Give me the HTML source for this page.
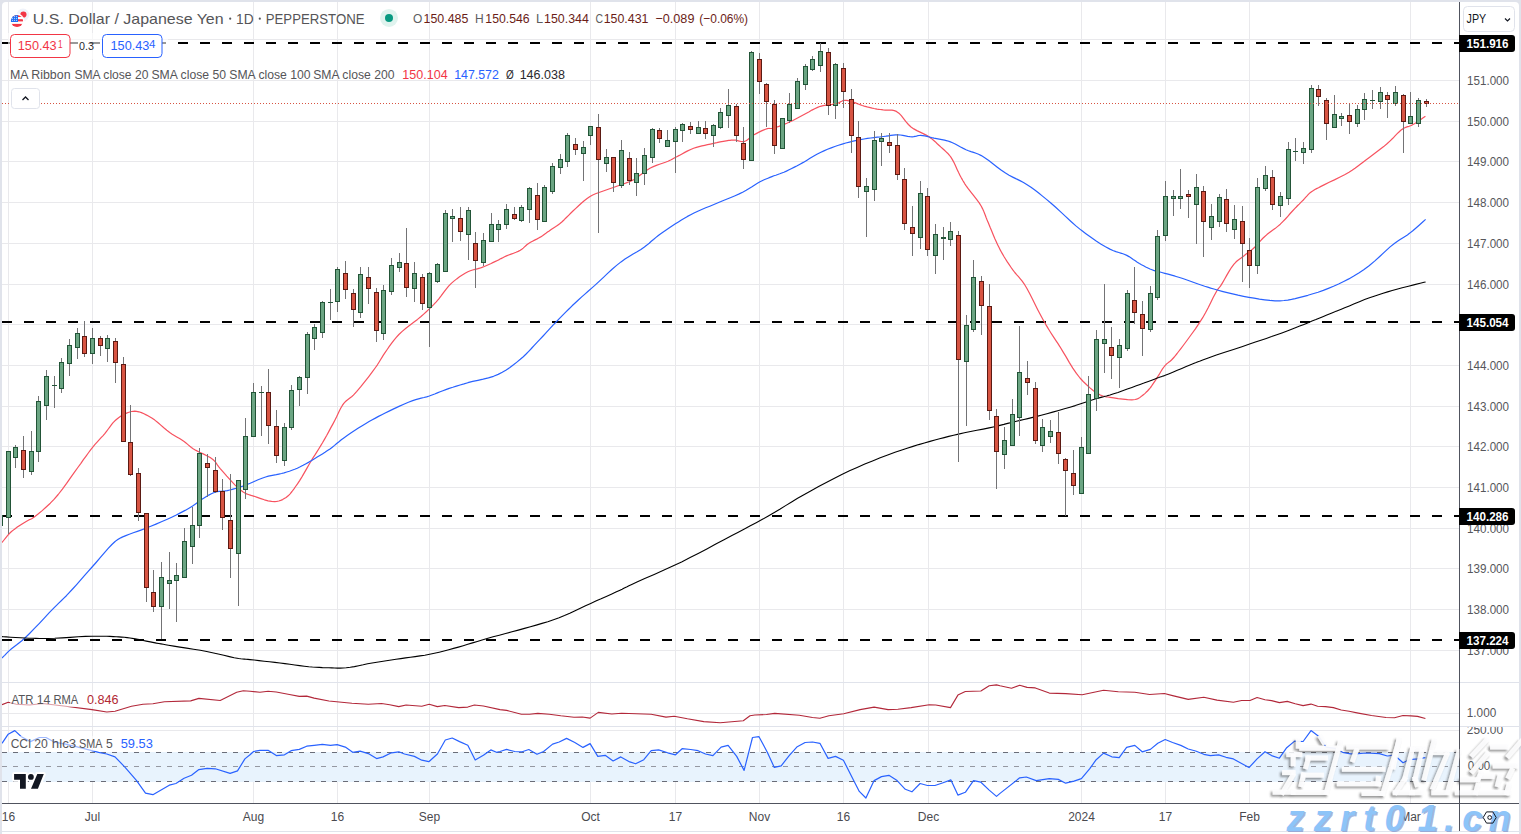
<!DOCTYPE html><html><head><meta charset="utf-8"><title>USDJPY</title><style>
html,body{margin:0;padding:0;background:#e0e3eb;width:1521px;height:834px;overflow:hidden}
svg{display:block}text{font-family:"Liberation Sans", sans-serif}
</style></head><body>
<svg width="1521" height="834" viewBox="0 0 1521 834" shape-rendering="auto">
<defs><clipPath id="main"><rect x="2" y="2" width="1457" height="680"/></clipPath>
<clipPath id="atr"><rect x="2" y="683" width="1457" height="43"/></clipPath>
<clipPath id="cci"><rect x="2" y="727" width="1457" height="76"/></clipPath>
<pattern id="dash" x="2" y="0" width="22" height="2" patternUnits="userSpaceOnUse"><rect x="0" y="0" width="10" height="2" fill="#000"/></pattern></defs>
<rect x="0" y="0" width="1521" height="834" fill="#e0e3eb"/>
<path d="M2 834V6a4 4 0 0 1 4-4H1515a4 4 0 0 1 4 4V834Z" fill="#ffffff"/>
<path d="M2 831.5H1519" stroke="#e0e3eb" stroke-width="1" shape-rendering="crispEdges"/>
<path d="M8.5 2V803 M92.5 2V803 M253.5 2V803 M337.5 2V803 M429.5 2V803 M590.5 2V803 M675.5 2V803 M759.5 2V803 M843.5 2V803 M928.5 2V803 M1081.5 2V803 M1165.5 2V803 M1249.5 2V803 M1410.5 2V803 M2 39.5H1459 M2 80.5H1459 M2 121.5H1459 M2 161.5H1459 M2 202.5H1459 M2 243.5H1459 M2 284.5H1459 M2 324.5H1459 M2 365.5H1459 M2 406.5H1459 M2 446.5H1459 M2 487.5H1459 M2 528.5H1459 M2 568.5H1459 M2 609.5H1459 M2 650.5H1459 M2 713.5H1459 M2 730.5H1459" stroke="#e9e9ec" stroke-width="1" fill="none" shape-rendering="crispEdges"/>
<path d="M2 682.5H1519M2 726.5H1519" stroke="#e0e3eb" stroke-width="1" fill="none" shape-rendering="crispEdges"/>
<rect x="2" y="752" width="1457" height="30" fill="#e8f3fd"/>
<g clip-path="url(#main)">
<rect x="2" y="42" width="1457" height="2" fill="url(#dash)"/>
<rect x="2" y="321" width="1457" height="2" fill="url(#dash)"/>
<rect x="2" y="515" width="1457" height="2" fill="url(#dash)"/>
<rect x="2" y="639" width="1457" height="2" fill="url(#dash)"/>
<polyline points="2.0,542.6 2.4,542.0 3.6,540.5 5.3,538.4 7.3,535.9 9.4,533.5 11.5,531.5 14.2,529.4 17.3,527.1 20.5,525.0 23.7,523.0 26.6,521.3 28.8,520.0 29.5,519.6 30.1,519.4 30.6,519.2 31.1,519.0 31.7,518.7 32.4,518.3 35.0,516.4 38.4,513.8 42.2,510.6 46.2,507.0 50.3,503.2 54.0,499.4 58.2,494.5 62.4,489.1 66.6,483.4 70.6,477.6 74.5,472.1 78.2,467.0 80.9,463.3 83.4,459.7 85.9,456.3 88.3,453.0 90.6,449.8 93.0,446.8 95.0,444.4 97.1,442.1 99.1,439.9 101.1,437.7 103.1,435.6 105.0,433.4 106.7,431.2 108.3,429.0 109.9,426.8 111.5,424.7 113.1,422.6 114.9,420.8 116.7,419.2 118.6,417.7 120.6,416.3 122.6,415.1 124.6,414.0 126.6,413.1 128.2,412.5 129.8,412.0 131.4,411.5 133.1,411.3 134.8,411.2 136.5,411.3 138.9,411.8 141.4,412.6 144.0,413.7 146.6,415.1 149.2,416.6 151.8,418.1 154.8,420.1 157.8,422.5 160.8,425.1 163.8,427.8 166.8,430.3 169.7,432.5 172.2,434.2 174.7,435.7 177.2,437.2 179.6,438.6 181.9,440.1 184.1,441.5 185.7,442.7 187.1,443.9 188.5,445.1 189.9,446.3 191.4,447.5 193.1,448.7 196.0,450.4 199.5,452.2 203.2,453.9 206.8,455.7 210.2,457.6 212.9,459.5 214.4,460.9 215.5,462.2 216.5,463.6 217.5,465.1 218.6,466.6 220.0,468.3 223.1,471.8 226.8,476.1 230.9,480.6 235.1,485.1 239.1,488.9 242.8,491.8 244.8,493.0 246.6,493.9 248.4,494.5 250.2,495.1 252.1,495.7 254.2,496.3 257.3,497.4 260.8,498.6 264.4,499.8 268.1,500.8 271.6,501.4 274.7,501.6 276.8,501.4 278.8,501.0 280.7,500.4 282.6,499.6 284.3,498.6 286.1,497.5 288.2,495.8 290.1,493.8 292.0,491.5 293.8,489.1 295.6,486.5 297.5,483.8 299.8,480.4 302.1,476.6 304.4,472.6 306.7,468.6 308.9,464.7 311.1,461.0 313.0,457.9 315.0,454.9 316.9,451.9 318.7,449.0 320.6,445.9 322.5,442.8 324.6,439.1 326.8,435.3 328.9,431.4 331.0,427.4 333.1,423.6 335.0,420.0 336.5,417.0 337.9,414.0 339.3,411.1 340.7,408.3 342.2,405.7 343.8,403.4 345.2,401.8 346.7,400.5 348.3,399.3 349.9,398.1 351.6,396.8 353.4,395.1 356.8,391.4 360.6,386.9 364.6,381.9 368.6,376.8 372.3,371.9 375.5,367.5 377.4,364.8 379.0,362.2 380.5,359.8 382.0,357.4 383.5,354.9 385.2,352.4 387.2,349.5 389.3,346.4 391.5,343.4 393.8,340.4 396.3,337.4 398.9,334.5 402.2,331.4 405.9,328.3 409.8,325.3 413.7,322.3 417.5,319.4 421.0,316.5 423.7,314.1 426.3,311.7 428.8,309.4 431.2,307.1 433.6,304.7 436.0,302.1 438.6,299.1 441.1,295.9 443.5,292.6 446.0,289.3 448.6,286.2 451.3,283.4 453.9,281.1 456.7,278.9 459.5,276.8 462.3,275.0 465.1,273.3 467.9,271.8 470.3,270.8 472.6,270.0 475.0,269.4 477.3,268.8 479.7,268.2 482.0,267.4 484.3,266.5 486.6,265.5 488.9,264.5 491.1,263.5 493.3,262.4 495.5,261.4 497.4,260.5 499.2,259.6 501.0,258.6 502.8,257.7 504.6,256.8 506.5,255.9 508.7,255.0 511.1,254.1 513.6,253.2 516.0,252.3 518.2,251.4 520.3,250.3 521.8,249.3 523.2,248.1 524.5,246.9 525.8,245.7 527.1,244.5 528.6,243.4 530.5,242.3 532.5,241.2 534.6,240.1 536.7,239.1 538.7,238.0 540.7,236.9 542.5,235.8 544.2,234.5 545.9,233.3 547.5,232.1 549.2,230.9 550.8,229.7 552.3,228.7 553.9,227.7 555.4,226.8 556.9,225.8 558.4,224.7 560.0,223.5 562.1,221.7 564.2,219.7 566.4,217.5 568.6,215.3 570.9,213.0 573.2,210.8 575.8,208.4 578.6,205.8 581.3,203.2 584.2,200.7 587.1,198.5 590.0,196.5 592.7,195.0 595.5,193.8 598.3,192.7 601.1,191.8 604.0,190.8 606.8,189.8 609.6,188.8 612.5,187.8 615.4,186.8 618.2,185.8 621.0,184.8 623.5,183.9 625.3,183.2 627.0,182.6 628.6,182.0 630.2,181.4 631.8,180.6 633.6,179.7 636.2,178.1 638.9,176.1 641.7,174.0 644.6,171.8 647.5,169.8 650.4,168.0 653.3,166.6 656.4,165.4 659.5,164.3 662.5,163.3 665.4,162.3 668.0,161.3 669.6,160.5 671.1,159.8 672.4,159.1 673.8,158.3 675.2,157.5 676.8,156.7 679.3,155.4 682.0,153.9 684.8,152.4 687.7,150.9 690.7,149.5 693.6,148.3 696.4,147.4 699.1,146.6 701.9,145.9 704.7,145.3 707.5,144.7 710.4,144.1 713.5,143.4 716.8,142.7 720.1,141.9 723.3,141.3 726.2,140.8 728.8,140.4 730.1,140.3 731.2,140.2 732.3,140.1 733.3,140.1 734.4,140.1 735.5,140.2 736.8,140.4 738.2,140.8 739.6,141.2 741.1,141.5 742.5,141.7 743.9,141.6 745.6,141.0 747.2,140.0 748.8,138.7 750.5,137.3 752.2,136.0 754.0,134.8 756.2,133.6 758.5,132.4 761.0,131.1 763.3,130.1 765.5,129.2 767.4,128.6 768.3,128.5 769.0,128.4 769.7,128.5 770.4,128.5 771.1,128.5 772.0,128.4 774.0,127.9 776.3,127.3 778.9,126.4 781.5,125.4 784.2,124.4 786.8,123.3 789.6,122.0 792.4,120.7 795.2,119.2 798.0,117.7 800.8,116.2 803.6,114.7 806.4,113.2 809.2,111.7 811.9,110.1 814.7,108.7 817.6,107.4 820.4,106.3 823.2,105.6 826.2,105.1 829.2,104.7 832.1,104.4 834.8,104.0 837.1,103.5 838.4,103.0 839.6,102.4 840.6,101.7 841.7,101.2 842.7,100.7 843.9,100.4 845.2,100.3 846.6,100.4 848.0,100.7 849.4,101.0 850.9,101.4 852.3,101.8 853.9,102.3 855.5,102.9 857.2,103.6 858.9,104.2 860.6,104.9 862.3,105.5 864.2,106.1 866.2,106.6 868.2,107.2 870.2,107.6 872.2,108.1 874.1,108.5 875.7,108.8 877.1,109.1 878.6,109.3 880.1,109.5 881.6,109.7 883.2,109.9 885.3,110.1 887.5,110.1 889.7,110.1 892.0,110.2 894.3,110.6 896.4,111.4 898.9,113.2 901.3,115.7 903.6,118.6 905.9,121.7 908.4,124.5 911.0,127.0 913.8,128.9 916.9,130.6 920.1,132.1 923.2,133.6 926.2,135.1 929.0,136.8 931.2,138.4 933.2,140.0 935.2,141.7 937.0,143.5 938.9,145.2 940.7,146.9 942.5,148.5 944.2,150.0 945.9,151.6 947.6,153.2 949.2,155.0 950.7,156.9 952.4,159.6 954.1,162.8 955.6,166.1 957.1,169.4 958.6,172.6 960.0,175.4 961.0,177.3 961.9,178.9 962.8,180.5 963.8,182.1 964.8,183.8 966.0,185.6 968.2,188.7 970.9,192.1 973.7,195.7 976.6,199.4 979.2,202.9 981.3,206.3 982.5,208.6 983.6,210.9 984.4,213.1 985.3,215.3 986.1,217.5 987.1,220.0 988.6,223.5 990.1,227.3 991.8,231.3 993.4,235.2 995.0,239.0 996.5,242.3 997.5,244.4 998.4,246.3 999.3,248.1 1000.2,249.9 1001.2,251.7 1002.3,253.6 1003.8,256.2 1005.5,259.0 1007.3,261.9 1009.2,264.7 1011.1,267.5 1013.0,270.2 1014.8,272.5 1016.6,274.6 1018.5,276.7 1020.3,278.8 1022.2,281.2 1024.1,283.8 1026.8,288.2 1029.5,293.3 1032.3,298.7 1035.0,304.2 1037.6,309.4 1040.0,314.0 1041.6,317.0 1043.1,319.7 1044.6,322.3 1046.0,324.9 1047.5,327.4 1049.1,330.0 1050.8,332.7 1052.5,335.4 1054.3,338.1 1056.1,340.8 1058.0,343.7 1060.0,346.8 1062.9,351.6 1066.1,356.9 1069.4,362.6 1072.8,368.1 1076.4,373.4 1080.0,378.0 1083.2,381.5 1086.6,384.8 1090.0,387.9 1093.4,390.7 1096.7,393.0 1099.8,394.8 1101.6,395.6 1103.2,396.1 1104.7,396.5 1106.3,396.8 1108.0,397.0 1110.0,397.3 1113.7,397.9 1118.2,398.6 1122.9,399.2 1127.6,399.7 1131.8,399.8 1135.2,399.5 1136.6,399.1 1137.9,398.6 1139.0,398.0 1140.0,397.4 1141.0,396.6 1142.1,395.8 1143.4,394.7 1144.8,393.6 1146.1,392.3 1147.5,391.0 1148.8,389.5 1150.0,388.1 1151.3,386.5 1152.5,384.7 1153.7,382.9 1154.9,381.1 1156.1,379.3 1157.3,377.4 1158.6,375.4 1159.9,373.2 1161.2,371.0 1162.5,368.9 1163.9,367.0 1165.2,365.3 1166.2,364.3 1167.3,363.4 1168.3,362.6 1169.4,361.8 1170.4,361.0 1171.5,360.0 1172.9,358.5 1174.3,357.0 1175.6,355.3 1177.1,353.5 1178.6,351.5 1180.3,349.3 1183.6,345.0 1187.3,340.0 1191.3,334.5 1195.4,328.8 1199.2,323.1 1202.7,317.7 1205.5,312.8 1208.3,307.5 1210.9,302.2 1213.3,297.3 1215.5,293.2 1217.3,290.0 1217.9,289.1 1218.5,288.5 1218.9,287.9 1219.4,287.4 1220.0,286.7 1220.6,285.9 1222.3,283.1 1224.4,279.5 1226.7,275.4 1229.2,271.1 1231.6,267.3 1234.0,264.1 1235.7,262.3 1237.3,260.8 1239.0,259.5 1240.7,258.3 1242.4,257.0 1244.1,255.7 1245.8,254.3 1247.5,253.0 1249.3,251.7 1251.0,250.4 1252.7,249.0 1254.4,247.5 1256.1,245.8 1257.7,244.1 1259.3,242.2 1260.9,240.4 1262.6,238.5 1264.5,236.7 1266.9,234.6 1269.5,232.6 1272.2,230.6 1275.0,228.6 1277.7,226.4 1280.3,224.2 1282.8,221.7 1285.4,219.0 1287.8,216.3 1290.2,213.5 1292.5,211.0 1294.7,208.6 1296.3,207.0 1297.7,205.5 1299.2,204.1 1300.6,202.7 1301.9,201.4 1303.3,200.0 1304.5,198.7 1305.6,197.4 1306.8,196.1 1307.9,194.8 1309.1,193.6 1310.4,192.5 1311.9,191.4 1313.4,190.5 1314.9,189.5 1316.6,188.6 1318.5,187.7 1320.5,186.6 1324.5,184.6 1329.2,182.3 1334.4,179.9 1339.6,177.3 1344.6,174.8 1349.0,172.3 1352.1,170.3 1355.0,168.3 1357.7,166.3 1360.3,164.3 1363.0,162.2 1365.9,160.0 1369.3,157.4 1372.9,154.8 1376.5,152.1 1380.1,149.3 1383.7,146.6 1387.0,143.8 1389.9,141.1 1392.8,138.3 1395.5,135.4 1398.2,132.7 1400.8,130.3 1403.3,128.5 1404.8,127.7 1406.3,127.1 1407.7,126.7 1409.1,126.3 1410.5,125.8 1412.0,125.1 1414.4,123.7 1417.3,121.9 1420.2,119.9 1422.8,118.1 1424.7,116.8 1425.4,116.3" fill="none" stroke="#f7525f" stroke-width="1.2" stroke-linejoin="round"/>
<polyline points="2.0,658.1 2.4,657.7 3.3,656.7 4.7,655.3 6.3,653.6 8.0,651.9 9.6,650.4 11.8,648.5 14.1,646.7 16.7,644.8 19.3,642.7 22.1,640.5 24.9,638.0 29.3,633.7 34.2,628.7 39.4,623.3 44.5,617.9 49.3,612.7 53.7,608.2 56.5,605.4 59.0,602.9 61.5,600.5 63.9,598.1 66.4,595.7 69.0,592.9 72.6,589.0 76.4,584.8 80.3,580.4 84.2,575.9 88.2,571.4 92.1,567.0 96.1,562.5 100.2,557.7 104.3,552.9 108.2,548.4 111.9,544.5 115.1,541.5 116.5,540.4 117.7,539.6 118.8,538.9 119.9,538.3 121.2,537.6 122.7,536.9 125.8,535.6 129.3,534.2 133.3,532.8 137.4,531.4 141.6,529.9 145.8,528.3 150.8,526.3 156.0,524.1 161.4,521.8 166.7,519.5 171.7,517.2 176.3,515.0 179.4,513.4 182.3,511.9 185.1,510.4 187.7,508.9 190.2,507.4 192.6,505.9 194.4,504.7 196.2,503.4 197.8,502.2 199.4,501.0 201.1,499.8 202.8,498.7 204.8,497.5 206.8,496.3 208.8,495.1 210.9,494.0 213.0,493.0 215.1,492.2 217.1,491.7 219.1,491.4 221.1,491.3 223.1,491.1 225.2,490.9 227.3,490.6 229.8,490.0 232.2,489.4 234.8,488.7 237.4,487.9 240.0,487.0 242.8,486.1 246.4,484.7 250.2,483.2 254.2,481.5 258.1,479.8 262.0,478.3 265.6,477.0 268.4,476.2 271.1,475.6 273.7,475.1 276.3,474.7 278.9,474.1 281.5,473.5 284.1,472.8 286.8,472.0 289.4,471.2 292.0,470.3 294.7,469.3 297.3,468.2 300.2,466.8 303.1,465.3 306.0,463.7 308.9,462.1 311.7,460.4 314.5,458.7 317.2,457.1 319.8,455.5 322.4,453.9 325.0,452.3 327.5,450.6 330.0,448.9 332.3,447.2 334.6,445.4 336.7,443.5 339.0,441.7 341.3,439.8 343.8,437.9 347.2,435.5 350.8,433.1 354.6,430.6 358.4,428.1 362.2,425.7 365.9,423.5 369.1,421.6 372.3,419.8 375.4,418.1 378.5,416.4 381.8,414.7 385.2,413.0 389.6,410.9 394.2,408.6 399.0,406.4 403.8,404.2 408.4,402.3 412.7,400.6 415.7,399.6 418.5,398.8 421.2,398.1 423.9,397.5 426.6,396.8 429.3,396.0 432.0,395.0 434.7,394.0 437.4,392.9 440.1,391.8 442.9,390.7 445.8,389.6 449.2,388.4 452.8,387.3 456.4,386.1 460.1,385.0 464.0,383.9 467.9,382.7 472.7,381.4 477.9,380.3 483.2,379.1 488.4,377.8 493.5,376.3 498.2,374.4 502.3,372.3 506.2,370.0 509.9,367.5 513.5,364.8 516.9,362.1 520.3,359.3 523.3,356.7 526.1,354.0 528.7,351.3 531.4,348.5 534.0,345.6 536.8,342.7 539.9,339.4 543.1,336.0 546.4,332.4 549.6,328.9 552.8,325.4 556.1,322.0 559.3,318.7 562.5,315.4 565.7,312.2 568.9,309.0 572.1,305.8 575.4,302.7 578.6,299.8 581.7,296.9 584.9,294.1 588.1,291.3 591.4,288.4 594.8,285.4 598.9,281.6 603.2,277.6 607.6,273.4 612.1,269.3 616.6,265.4 621.0,261.9 625.0,259.1 629.1,256.5 633.1,254.0 637.1,251.7 640.9,249.4 644.4,247.0 646.9,245.1 649.2,243.2 651.3,241.3 653.5,239.5 655.7,237.6 658.0,235.8 660.7,233.8 663.6,231.7 666.5,229.7 669.4,227.7 672.4,225.7 675.4,223.8 678.4,221.9 681.4,220.0 684.4,218.2 687.5,216.4 690.7,214.7 694.0,213.0 697.8,211.2 701.7,209.5 705.7,207.8 709.8,206.2 713.9,204.5 718.0,202.8 722.2,201.0 726.5,199.3 730.9,197.5 735.1,195.7 739.2,193.9 743.1,192.0 746.2,190.3 749.1,188.5 752.0,186.7 754.7,184.9 757.4,183.3 760.0,181.8 762.1,180.8 764.1,179.8 766.0,179.0 768.0,178.2 769.9,177.4 771.9,176.6 773.9,175.8 775.8,175.2 777.8,174.5 779.8,173.8 781.8,173.0 783.9,172.2 786.4,171.1 789.1,169.8 791.7,168.5 794.4,167.1 797.2,165.7 800.0,164.2 803.3,162.4 806.6,160.4 810.0,158.3 813.4,156.3 816.9,154.3 820.4,152.5 823.9,150.9 827.5,149.3 831.2,147.9 834.8,146.5 838.5,145.3 842.2,144.1 845.8,143.0 849.5,142.1 853.1,141.2 856.8,140.4 860.4,139.7 864.0,139.0 867.4,138.4 870.7,138.0 874.0,137.6 877.3,137.2 880.5,136.9 883.6,136.5 886.1,136.2 888.5,135.8 890.9,135.4 893.2,135.1 895.5,134.9 897.9,134.8 900.3,135.0 902.8,135.4 905.3,135.8 907.7,136.3 910.0,136.7 912.2,136.8 913.7,136.7 915.1,136.4 916.4,136.1 917.7,135.7 919.1,135.5 920.6,135.4 922.6,135.6 924.8,135.9 927.0,136.4 929.3,137.0 931.7,137.6 934.0,138.1 936.6,138.6 939.2,139.1 941.9,139.6 944.5,140.1 947.2,140.8 949.8,141.6 952.5,142.7 955.2,144.0 957.9,145.5 960.6,147.0 963.3,148.4 966.0,149.7 968.5,150.7 971.0,151.6 973.5,152.4 976.0,153.3 978.6,154.3 981.3,155.6 985.1,157.9 989.1,160.8 993.2,164.0 997.3,167.2 1001.4,170.3 1005.5,173.1 1009.1,175.2 1012.7,177.1 1016.3,178.9 1019.9,180.6 1023.5,182.5 1027.1,184.7 1031.0,187.3 1034.8,190.1 1038.7,193.1 1042.5,196.1 1046.5,199.4 1050.5,202.7 1055.4,207.0 1060.4,211.6 1065.5,216.4 1070.7,221.2 1075.9,225.9 1081.1,230.1 1085.9,233.7 1090.9,237.3 1095.8,240.7 1100.7,243.9 1105.5,246.7 1109.9,249.1 1112.9,250.5 1115.9,251.6 1118.8,252.5 1121.5,253.3 1124.2,254.3 1126.8,255.4 1129.0,256.6 1131.2,258.0 1133.2,259.4 1135.3,260.8 1137.3,262.2 1139.4,263.5 1141.5,264.7 1143.6,265.8 1145.7,267.0 1147.9,268.0 1150.0,269.0 1152.0,269.8 1153.6,270.4 1155.2,270.8 1156.7,271.2 1158.3,271.6 1160.0,272.0 1161.8,272.5 1164.8,273.3 1168.1,274.2 1171.6,275.2 1175.2,276.2 1178.7,277.3 1182.0,278.3 1184.9,279.3 1187.7,280.2 1190.5,281.2 1193.2,282.2 1196.0,283.2 1198.8,284.2 1201.8,285.2 1204.7,286.2 1207.7,287.1 1210.7,288.1 1213.9,289.0 1217.3,290.0 1222.1,291.3 1227.2,292.6 1232.6,293.9 1238.0,295.2 1243.5,296.3 1248.9,297.3 1254.1,298.2 1259.4,299.1 1264.7,299.8 1269.9,300.4 1275.0,300.8 1279.9,300.8 1283.9,300.5 1287.8,300.1 1291.5,299.4 1295.2,298.6 1299.0,297.6 1303.0,296.6 1307.9,295.3 1312.9,293.8 1318.1,292.2 1323.3,290.4 1328.4,288.4 1333.5,286.3 1338.6,284.0 1343.7,281.5 1348.8,278.9 1353.8,276.1 1358.8,273.1 1363.7,269.8 1369.1,265.7 1374.6,261.1 1380.0,256.2 1385.2,251.4 1390.1,246.9 1394.7,243.2 1397.5,241.2 1400.1,239.5 1402.6,237.9 1405.0,236.4 1407.4,234.9 1409.8,233.1 1412.8,230.7 1416.3,227.7 1419.7,224.7 1422.7,222.0 1424.8,220.1 1425.6,219.4" fill="none" stroke="#2962ff" stroke-width="1.2" stroke-linejoin="round"/>
<polyline points="2.0,636.6 3.2,636.7 6.2,636.9 10.6,637.2 15.6,637.5 20.5,637.8 24.9,638.0 28.7,638.2 32.3,638.3 36.0,638.4 39.7,638.5 43.7,638.5 48.0,638.5 54.7,638.3 62.2,637.9 70.2,637.4 78.1,636.8 85.5,636.4 92.1,636.2 96.1,636.2 99.8,636.2 103.3,636.2 106.6,636.3 109.9,636.4 113.2,636.6 116.1,636.8 118.8,636.9 121.5,637.1 124.3,637.3 127.1,637.6 130.0,638.0 133.8,638.6 137.9,639.3 142.1,640.2 146.3,641.1 150.3,641.9 154.0,642.6 156.5,643.1 158.8,643.5 161.0,643.9 163.2,644.3 165.6,644.7 168.4,645.2 173.8,646.1 179.9,647.1 186.6,648.1 193.5,649.2 200.3,650.3 206.7,651.5 212.4,652.7 218.2,654.0 223.8,655.3 229.3,656.6 234.2,657.7 238.6,658.5 240.8,658.8 242.6,659.0 244.3,659.1 246.0,659.3 247.9,659.4 250.0,659.6 254.2,660.0 259.0,660.6 264.2,661.2 269.5,661.8 274.9,662.4 280.0,663.0 284.9,663.6 289.8,664.3 294.8,665.0 299.6,665.6 304.3,666.2 308.8,666.7 312.4,667.0 315.8,667.2 319.2,667.4 322.4,667.6 325.7,667.7 328.9,667.8 331.8,667.9 334.6,668.0 337.4,668.1 340.2,668.1 343.1,668.0 346.2,667.8 350.2,667.3 354.4,666.6 358.7,665.7 363.2,664.8 367.6,663.8 372.1,663.0 376.8,662.2 381.6,661.5 386.3,660.8 391.2,660.0 396.0,659.3 400.8,658.6 405.6,657.9 410.4,657.3 415.2,656.6 420.0,655.9 424.8,655.2 429.6,654.3 434.4,653.3 439.2,652.2 444.0,651.0 448.8,649.7 453.6,648.4 458.4,647.1 463.2,645.7 467.8,644.3 472.5,642.9 477.3,641.4 482.1,640.0 487.1,638.5 493.1,636.8 499.3,635.2 505.6,633.5 512.0,631.8 518.3,630.1 524.5,628.4 530.4,626.7 536.2,625.1 542.0,623.4 547.8,621.7 553.5,619.8 559.1,617.8 564.5,615.6 569.8,613.3 575.1,610.8 580.3,608.3 585.5,605.8 590.7,603.4 595.8,601.1 601.1,598.8 606.3,596.4 611.3,594.2 615.9,592.1 620.0,590.2 622.1,589.2 623.8,588.3 625.4,587.5 627.1,586.7 628.9,585.8 631.2,584.7 637.5,581.8 645.3,578.3 654.2,574.5 663.5,570.3 672.8,566.1 681.6,561.9 690.1,557.6 698.7,553.2 707.3,548.7 715.8,544.1 724.0,539.7 731.9,535.5 738.3,532.2 744.4,529.0 750.3,525.8 756.2,522.7 762.0,519.6 767.9,516.3 773.9,512.8 779.8,509.3 785.6,505.6 791.6,502.0 797.6,498.3 803.9,494.7 811.1,490.7 818.6,486.5 826.3,482.4 834.0,478.4 841.8,474.5 849.5,470.8 857.1,467.4 864.8,464.0 872.5,460.9 880.2,457.8 887.7,455.0 895.0,452.3 901.1,450.2 907.1,448.2 913.0,446.4 918.7,444.6 924.4,443.0 930.0,441.4 934.9,440.0 939.6,438.8 944.2,437.6 948.8,436.4 953.6,435.3 958.5,434.1 964.4,432.8 970.6,431.5 976.9,430.3 983.2,429.1 989.1,427.9 994.4,426.7 997.8,425.9 1000.9,425.1 1003.9,424.4 1006.7,423.6 1009.7,422.9 1012.8,422.1 1016.4,421.2 1020.1,420.4 1023.9,419.5 1027.8,418.6 1031.8,417.6 1035.9,416.6 1041.2,415.2 1046.9,413.7 1052.7,412.1 1058.6,410.5 1064.4,408.8 1070.0,407.2 1075.3,405.6 1080.7,403.8 1086.1,402.0 1091.3,400.3 1095.9,398.8 1100.0,397.6 1101.9,397.1 1103.6,396.7 1105.0,396.3 1106.5,396.0 1108.1,395.5 1110.0,395.0 1113.7,393.8 1118.0,392.4 1122.6,390.7 1127.3,389.0 1131.9,387.4 1136.3,385.8 1140.1,384.4 1143.9,383.1 1147.6,381.7 1151.1,380.4 1154.4,379.2 1157.3,378.1 1158.8,377.6 1160.1,377.1 1161.2,376.7 1162.4,376.3 1163.7,375.9 1165.2,375.3 1168.6,373.9 1172.8,372.2 1177.3,370.3 1181.8,368.4 1186.2,366.6 1190.0,365.0 1192.3,364.1 1194.2,363.2 1196.1,362.5 1198.0,361.7 1200.2,360.9 1202.7,359.9 1208.9,357.7 1216.4,355.1 1224.8,352.3 1233.5,349.5 1241.9,346.7 1249.6,344.1 1255.4,342.1 1260.9,340.2 1266.3,338.4 1271.6,336.6 1276.8,334.7 1281.9,332.9 1286.5,331.2 1291.0,329.5 1295.4,327.8 1299.7,326.1 1304.0,324.4 1308.2,322.7 1312.0,321.1 1315.9,319.6 1319.7,318.0 1323.4,316.4 1326.8,315.0 1330.0,313.7 1331.9,312.9 1333.7,312.2 1335.3,311.6 1336.9,310.9 1338.7,310.2 1340.7,309.4 1344.7,307.8 1349.3,305.9 1354.3,303.8 1359.4,301.7 1364.6,299.6 1369.5,297.8 1374.1,296.2 1378.6,294.7 1383.1,293.2 1387.6,291.9 1392.2,290.5 1396.8,289.2 1402.2,287.7 1408.5,286.2 1414.7,284.6 1420.2,283.3 1424.1,282.3 1425.6,282.0" fill="none" stroke="#000" stroke-width="1.1" stroke-linejoin="round"/>
<path d="M2.5 515V526" stroke="#225437" stroke-width="1" shape-rendering="crispEdges"/>
<path d="M8.5 518V534 M15.5 445V447 M15.5 458V468 M23.5 436V450 M23.5 470V478 M31.5 431V451 M31.5 472V475 M38.5 396V401 M38.5 452V462 M46.5 370V376 M46.5 406V420 M54.5 376V385 M54.5 386V408 M61.5 358V362 M61.5 389V393 M69.5 339V345 M69.5 364V376 M77.5 328V333 M77.5 348V359 M84.5 321V336 M84.5 354V357 M92.5 328V338 M92.5 354V364 M100.5 336V338 M100.5 346V356 M107.5 335V338 M107.5 349V362 M115.5 338V341 M115.5 363V383 M123.5 357V364 M130.5 405V442 M130.5 475V476 M138.5 468V473 M138.5 513V521 M146.5 588V602 M153.5 570V592 M153.5 607V612 M161.5 562V577 M161.5 607V639 M169.5 552V580 M169.5 584V609 M176.5 563V575 M176.5 581V622 M184.5 528V541 M192.5 507V525 M192.5 547V564 M199.5 448V453 M199.5 526V538 M207.5 454V463 M207.5 468V497 M215.5 457V470 M215.5 492V493 M222.5 479V491 M222.5 518V530 M230.5 474V520 M230.5 549V578 M238.5 554V606 M245.5 418V436 M245.5 490V499 M253.5 383V392 M261.5 386V392 M261.5 393V436 M268.5 369V392 M268.5 426V444 M276.5 410V426 M276.5 456V463 M284.5 423V427 M284.5 461V466 M291.5 385V390 M291.5 428V430 M299.5 376V377 M299.5 390V406 M307.5 332V334 M307.5 378V394 M314.5 324V327 M314.5 339V350 M322.5 301V302 M322.5 333V338 M330.5 289V302 M330.5 303V320 M337.5 267V269 M337.5 302V312 M345.5 261V273 M345.5 290V299 M353.5 289V293 M353.5 310V327 M360.5 267V274 M360.5 313V318 M368.5 267V277 M368.5 289V304 M376.5 288V292 M376.5 331V342 M383.5 285V290 M383.5 334V340 M391.5 258V265 M391.5 292V295 M399.5 253V262 M399.5 268V272 M406.5 228V263 M406.5 288V297 M414.5 262V273 M414.5 289V302 M422.5 274V277 M422.5 304V310 M429.5 272V273 M429.5 308V347 M437.5 263V264 M437.5 282V283 M445.5 210V213 M452.5 209V216 M452.5 219V242 M460.5 207V218 M460.5 232V241 M468.5 207V210 M468.5 235V260 M475.5 232V243 M475.5 261V288 M483.5 233V240 M483.5 263V266 M491.5 213V224 M498.5 220V224 M498.5 230V242 M506.5 204V209 M506.5 225V229 M514.5 207V214 M514.5 219V220 M521.5 205V207 M521.5 221V222 M529.5 187V188 M529.5 210V223 M537.5 183V195 M537.5 220V230 M544.5 185V187 M552.5 163V166 M552.5 192V194 M560.5 154V159 M560.5 168V174 M567.5 133V135 M567.5 162V167 M575.5 138V144 M575.5 150V155 M583.5 141V147 M583.5 154V181 M590.5 136V145 M598.5 114V127 M598.5 160V233 M606.5 149V157 M606.5 164V172 M613.5 183V192 M621.5 140V150 M621.5 186V188 M629.5 152V158 M629.5 181V185 M636.5 158V173 M636.5 183V196 M644.5 148V155 M644.5 174V185 M652.5 128V129 M652.5 158V163 M659.5 128V130 M659.5 139V143 M667.5 130V140 M675.5 127V129 M675.5 142V173 M682.5 123V124 M682.5 131V142 M690.5 122V126 M690.5 130V134 M698.5 121V127 M705.5 121V128 M705.5 134V139 M713.5 124V125 M713.5 136V147 M720.5 108V112 M720.5 128V129 M728.5 89V105 M728.5 116V128 M736.5 104V106 M736.5 136V142 M743.5 127V143 M743.5 160V169 M751.5 51V52 M759.5 53V59 M759.5 82V94 M766.5 83V84 M766.5 102V127 M774.5 100V104 M774.5 146V154 M789.5 93V104 M789.5 121V123 M797.5 78V81 M805.5 64V66 M805.5 85V90 M812.5 56V59 M812.5 70V71 M820.5 43V51 M820.5 66V72 M828.5 48V52 M828.5 106V115 M835.5 63V64 M835.5 106V119 M843.5 63V68 M843.5 92V108 M851.5 89V99 M851.5 136V153 M858.5 121V137 M858.5 187V198 M866.5 178V186 M866.5 192V237 M874.5 131V140 M874.5 190V201 M881.5 133V138 M881.5 142V166 M889.5 133V142 M889.5 146V153 M897.5 134V145 M897.5 175V180 M904.5 168V179 M904.5 224V230 M912.5 206V227 M912.5 234V256 M920.5 181V193 M920.5 238V249 M927.5 188V196 M927.5 250V256 M935.5 224V234 M935.5 256V274 M943.5 227V237 M943.5 239V260 M950.5 222V231 M950.5 240V246 M958.5 231V235 M958.5 360V462 M966.5 315V325 M966.5 362V426 M973.5 260V277 M973.5 330V332 M981.5 276V281 M981.5 306V335 M989.5 284V306 M989.5 411V420 M996.5 409V416 M996.5 452V489 M1004.5 427V440 M1004.5 455V469 M1012.5 399V414 M1019.5 326V372 M1019.5 418V436 M1027.5 361V378 M1027.5 383V395 M1035.5 382V388 M1035.5 441V444 M1042.5 419V427 M1042.5 446V452 M1050.5 420V431 M1050.5 437V443 M1058.5 412V432 M1058.5 454V464 M1065.5 458V459 M1065.5 471V516 M1073.5 450V473 M1073.5 486V495 M1081.5 437V447 M1088.5 376V394 M1096.5 330V339 M1096.5 399V411 M1104.5 284V339 M1104.5 344V373 M1111.5 327V347 M1111.5 356V379 M1119.5 339V345 M1119.5 358V388 M1127.5 290V293 M1127.5 349V351 M1134.5 267V300 M1134.5 313V324 M1142.5 301V314 M1142.5 329V356 M1150.5 286V293 M1150.5 330V332 M1157.5 230V236 M1157.5 298V300 M1165.5 181V196 M1165.5 236V241 M1173.5 190V196 M1173.5 199V216 M1180.5 169V196 M1180.5 199V209 M1188.5 190V194 M1188.5 197V218 M1196.5 174V187 M1196.5 205V244 M1203.5 186V191 M1203.5 222V257 M1211.5 204V216 M1211.5 228V240 M1219.5 194V197 M1219.5 222V227 M1226.5 189V199 M1226.5 224V232 M1234.5 205V219 M1234.5 230V239 M1242.5 206V221 M1242.5 244V282 M1249.5 238V250 M1249.5 266V288 M1257.5 178V187 M1257.5 266V274 M1265.5 166V175 M1265.5 189V191 M1272.5 170V177 M1272.5 205V210 M1280.5 192V196 M1280.5 206V217 M1288.5 142V149 M1288.5 199V205 M1295.5 138V151 M1295.5 152V161 M1303.5 142V148 M1303.5 153V164 M1311.5 85V88 M1311.5 150V153 M1318.5 85V89 M1318.5 97V106 M1326.5 98V100 M1326.5 124V140 M1334.5 95V114 M1341.5 113V116 M1341.5 119V126 M1349.5 104V115 M1349.5 122V134 M1357.5 105V109 M1357.5 124V127 M1364.5 93V99 M1364.5 110V120 M1372.5 90V100 M1372.5 101V109 M1380.5 87V92 M1380.5 102V109 M1387.5 92V95 M1387.5 100V118 M1395.5 86V92 M1395.5 104V106 M1403.5 94V95 M1403.5 122V153 M1410.5 92V116 M1418.5 98V100 M1418.5 124V127 M1426.5 99V101 M1426.5 104V107" stroke="#737375" stroke-width="1" fill="none" shape-rendering="crispEdges"/>
<g fill="#6ba583" stroke="#225437" stroke-width="1"><rect x="6.5" y="451.5" width="4" height="66"/><rect x="13.5" y="447.5" width="4" height="10"/><rect x="29.5" y="451.5" width="4" height="20"/><rect x="36.5" y="401.5" width="4" height="50"/><rect x="44.5" y="376.5" width="4" height="29"/><rect x="59.5" y="362.5" width="4" height="26"/><rect x="67.5" y="345.5" width="4" height="18"/><rect x="75.5" y="333.5" width="4" height="14"/><rect x="90.5" y="338.5" width="4" height="15"/><rect x="105.5" y="338.5" width="4" height="10"/><rect x="159.5" y="577.5" width="4" height="29"/><rect x="167.5" y="580.5" width="4" height="3"/><rect x="174.5" y="575.5" width="4" height="5"/><rect x="182.5" y="541.5" width="4" height="36"/><rect x="190.5" y="525.5" width="4" height="21"/><rect x="197.5" y="453.5" width="4" height="72"/><rect x="236.5" y="480.5" width="4" height="73"/><rect x="243.5" y="436.5" width="4" height="53"/><rect x="251.5" y="392.5" width="4" height="44"/><rect x="282.5" y="427.5" width="4" height="33"/><rect x="289.5" y="390.5" width="4" height="37"/><rect x="297.5" y="377.5" width="4" height="12"/><rect x="305.5" y="334.5" width="4" height="43"/><rect x="312.5" y="327.5" width="4" height="11"/><rect x="320.5" y="302.5" width="4" height="30"/><rect x="335.5" y="269.5" width="4" height="32"/><rect x="358.5" y="274.5" width="4" height="38"/><rect x="381.5" y="290.5" width="4" height="43"/><rect x="389.5" y="265.5" width="4" height="26"/><rect x="397.5" y="262.5" width="4" height="5"/><rect x="412.5" y="273.5" width="4" height="15"/><rect x="427.5" y="273.5" width="4" height="34"/><rect x="435.5" y="264.5" width="4" height="17"/><rect x="443.5" y="213.5" width="4" height="58"/><rect x="450.5" y="216.5" width="4" height="2"/><rect x="466.5" y="210.5" width="4" height="24"/><rect x="481.5" y="240.5" width="4" height="22"/><rect x="489.5" y="224.5" width="4" height="17"/><rect x="496.5" y="224.5" width="4" height="5"/><rect x="504.5" y="209.5" width="4" height="15"/><rect x="519.5" y="207.5" width="4" height="13"/><rect x="527.5" y="188.5" width="4" height="21"/><rect x="542.5" y="187.5" width="4" height="34"/><rect x="550.5" y="166.5" width="4" height="25"/><rect x="558.5" y="159.5" width="4" height="8"/><rect x="565.5" y="135.5" width="4" height="26"/><rect x="581.5" y="147.5" width="4" height="6"/><rect x="588.5" y="126.5" width="4" height="9"/><rect x="604.5" y="157.5" width="4" height="6"/><rect x="619.5" y="150.5" width="4" height="35"/><rect x="634.5" y="173.5" width="4" height="9"/><rect x="642.5" y="155.5" width="4" height="18"/><rect x="650.5" y="129.5" width="4" height="28"/><rect x="665.5" y="140.5" width="4" height="6"/><rect x="673.5" y="129.5" width="4" height="12"/><rect x="680.5" y="124.5" width="4" height="6"/><rect x="696.5" y="127.5" width="4" height="6"/><rect x="711.5" y="125.5" width="4" height="10"/><rect x="718.5" y="112.5" width="4" height="15"/><rect x="726.5" y="105.5" width="4" height="10"/><rect x="749.5" y="52.5" width="4" height="108"/><rect x="780.5" y="118.5" width="4" height="30"/><rect x="787.5" y="104.5" width="4" height="16"/><rect x="795.5" y="81.5" width="4" height="27"/><rect x="803.5" y="66.5" width="4" height="18"/><rect x="810.5" y="59.5" width="4" height="10"/><rect x="818.5" y="51.5" width="4" height="14"/><rect x="833.5" y="64.5" width="4" height="41"/><rect x="864.5" y="186.5" width="4" height="5"/><rect x="872.5" y="140.5" width="4" height="49"/><rect x="879.5" y="138.5" width="4" height="3"/><rect x="918.5" y="193.5" width="4" height="44"/><rect x="933.5" y="234.5" width="4" height="21"/><rect x="941.5" y="237.5" width="4" height="1"/><rect x="948.5" y="231.5" width="4" height="8"/><rect x="964.5" y="325.5" width="4" height="36"/><rect x="971.5" y="277.5" width="4" height="52"/><rect x="1002.5" y="440.5" width="4" height="14"/><rect x="1010.5" y="414.5" width="4" height="31"/><rect x="1017.5" y="372.5" width="4" height="45"/><rect x="1040.5" y="427.5" width="4" height="18"/><rect x="1048.5" y="431.5" width="4" height="5"/><rect x="1079.5" y="447.5" width="4" height="46"/><rect x="1086.5" y="394.5" width="4" height="59"/><rect x="1094.5" y="339.5" width="4" height="59"/><rect x="1102.5" y="339.5" width="4" height="4"/><rect x="1117.5" y="345.5" width="4" height="12"/><rect x="1125.5" y="293.5" width="4" height="55"/><rect x="1148.5" y="293.5" width="4" height="36"/><rect x="1155.5" y="236.5" width="4" height="61"/><rect x="1163.5" y="196.5" width="4" height="39"/><rect x="1171.5" y="196.5" width="4" height="2"/><rect x="1178.5" y="196.5" width="4" height="2"/><rect x="1194.5" y="187.5" width="4" height="17"/><rect x="1209.5" y="216.5" width="4" height="11"/><rect x="1217.5" y="197.5" width="4" height="24"/><rect x="1232.5" y="219.5" width="4" height="10"/><rect x="1255.5" y="187.5" width="4" height="78"/><rect x="1263.5" y="175.5" width="4" height="13"/><rect x="1278.5" y="196.5" width="4" height="9"/><rect x="1286.5" y="149.5" width="4" height="49"/><rect x="1301.5" y="148.5" width="4" height="4"/><rect x="1309.5" y="88.5" width="4" height="61"/><rect x="1332.5" y="114.5" width="4" height="13"/><rect x="1339.5" y="116.5" width="4" height="2"/><rect x="1355.5" y="109.5" width="4" height="14"/><rect x="1362.5" y="99.5" width="4" height="10"/><rect x="1378.5" y="92.5" width="4" height="9"/><rect x="1393.5" y="92.5" width="4" height="11"/><rect x="1408.5" y="116.5" width="4" height="7"/><rect x="1416.5" y="100.5" width="4" height="23"/></g>
<g fill="#d75442" stroke="#5b1a13" stroke-width="1"><rect x="21.5" y="450.5" width="4" height="19"/><rect x="82.5" y="336.5" width="4" height="17"/><rect x="98.5" y="338.5" width="4" height="7"/><rect x="113.5" y="341.5" width="4" height="21"/><rect x="121.5" y="364.5" width="4" height="77"/><rect x="128.5" y="442.5" width="4" height="32"/><rect x="136.5" y="473.5" width="4" height="39"/><rect x="144.5" y="513.5" width="4" height="74"/><rect x="151.5" y="592.5" width="4" height="14"/><rect x="205.5" y="463.5" width="4" height="4"/><rect x="213.5" y="470.5" width="4" height="21"/><rect x="220.5" y="491.5" width="4" height="26"/><rect x="228.5" y="520.5" width="4" height="28"/><rect x="266.5" y="392.5" width="4" height="33"/><rect x="274.5" y="426.5" width="4" height="29"/><rect x="343.5" y="273.5" width="4" height="16"/><rect x="351.5" y="293.5" width="4" height="16"/><rect x="366.5" y="277.5" width="4" height="11"/><rect x="374.5" y="292.5" width="4" height="38"/><rect x="404.5" y="263.5" width="4" height="24"/><rect x="420.5" y="277.5" width="4" height="26"/><rect x="458.5" y="218.5" width="4" height="13"/><rect x="473.5" y="243.5" width="4" height="17"/><rect x="512.5" y="214.5" width="4" height="4"/><rect x="535.5" y="195.5" width="4" height="24"/><rect x="573.5" y="144.5" width="4" height="5"/><rect x="596.5" y="127.5" width="4" height="32"/><rect x="611.5" y="157.5" width="4" height="25"/><rect x="627.5" y="158.5" width="4" height="22"/><rect x="657.5" y="130.5" width="4" height="8"/><rect x="688.5" y="126.5" width="4" height="3"/><rect x="703.5" y="128.5" width="4" height="5"/><rect x="734.5" y="106.5" width="4" height="29"/><rect x="741.5" y="143.5" width="4" height="16"/><rect x="757.5" y="59.5" width="4" height="22"/><rect x="764.5" y="84.5" width="4" height="17"/><rect x="772.5" y="104.5" width="4" height="41"/><rect x="826.5" y="52.5" width="4" height="53"/><rect x="841.5" y="68.5" width="4" height="23"/><rect x="849.5" y="99.5" width="4" height="36"/><rect x="856.5" y="137.5" width="4" height="49"/><rect x="887.5" y="142.5" width="4" height="3"/><rect x="895.5" y="145.5" width="4" height="29"/><rect x="902.5" y="179.5" width="4" height="44"/><rect x="910.5" y="227.5" width="4" height="6"/><rect x="925.5" y="196.5" width="4" height="53"/><rect x="956.5" y="235.5" width="4" height="124"/><rect x="979.5" y="281.5" width="4" height="24"/><rect x="987.5" y="306.5" width="4" height="104"/><rect x="994.5" y="416.5" width="4" height="35"/><rect x="1025.5" y="378.5" width="4" height="4"/><rect x="1033.5" y="388.5" width="4" height="52"/><rect x="1056.5" y="432.5" width="4" height="21"/><rect x="1063.5" y="459.5" width="4" height="11"/><rect x="1071.5" y="473.5" width="4" height="12"/><rect x="1109.5" y="347.5" width="4" height="8"/><rect x="1132.5" y="300.5" width="4" height="12"/><rect x="1140.5" y="314.5" width="4" height="14"/><rect x="1186.5" y="194.5" width="4" height="2"/><rect x="1201.5" y="191.5" width="4" height="30"/><rect x="1224.5" y="199.5" width="4" height="24"/><rect x="1240.5" y="221.5" width="4" height="22"/><rect x="1247.5" y="250.5" width="4" height="15"/><rect x="1270.5" y="177.5" width="4" height="27"/><rect x="1316.5" y="89.5" width="4" height="7"/><rect x="1324.5" y="100.5" width="4" height="23"/><rect x="1347.5" y="115.5" width="4" height="6"/><rect x="1385.5" y="95.5" width="4" height="4"/><rect x="1401.5" y="95.5" width="4" height="26"/><rect x="1424.5" y="101.5" width="4" height="2"/></g>
<path d="M52 385.5H57 M259 392.5H264 M328 302.5H333 M1293 151.5H1298 M1370 100.5H1375" stroke="#225437" stroke-width="1" fill="none" shape-rendering="crispEdges"/>
<path d="M2 103.5H1459" stroke="#d75442" stroke-width="1" stroke-dasharray="1 2" fill="none" shape-rendering="crispEdges"/>
</g>
<g clip-path="url(#atr)"><polyline points="2.0,704.7 8.2,702.2 16.4,704.3 29.6,705.0 42.7,703.5 65.7,706.3 92.0,709.6 106.8,712.0 115.0,711.2 131.5,706.3 143.0,704.3 152.9,703.8 164.4,701.7 190.7,700.9 198.9,698.4 220.2,700.5 236.7,692.3 243.3,690.8 250.0,691.2 259.9,692.3 268.1,691.2 276.3,692.0 289.4,694.5 299.3,696.4 306.7,696.1 314.1,698.1 328.9,701.0 351.9,703.3 368.3,704.3 381.5,703.5 389.7,704.7 398.8,706.6 406.1,705.0 421.8,706.3 429.2,704.3 437.4,706.6 444.8,705.5 458.7,707.6 467.8,707.1 474.4,705.0 483.4,706.0 500.0,709.6 506.6,710.4 521.4,714.2 529.6,714.2 537.8,713.4 549.3,714.2 560.8,715.8 574.0,717.3 582.2,717.0 590.1,718.1 598.3,712.4 611.8,714.0 621.6,713.2 651.2,714.2 666.0,717.1 674.2,716.2 687.4,718.8 703.8,721.6 720.2,722.7 743.3,720.8 750.0,715.8 754.9,715.0 766.4,714.5 774.7,713.4 799.3,715.3 812.5,717.5 819.9,718.3 828.9,715.8 843.7,713.7 860.1,709.6 874.1,707.1 888.1,709.6 897.9,709.3 911.1,707.6 929.2,704.7 935.7,705.0 950.5,707.6 957.9,695.1 965.3,691.5 980.9,691.0 989.2,685.8 996.5,684.9 1000.0,685.8 1011.5,688.2 1019.7,685.3 1027.1,687.4 1035.3,687.9 1049.3,693.1 1065.7,693.6 1082.2,694.8 1103.6,690.2 1118.3,691.8 1134.8,692.3 1149.6,694.5 1164.4,693.5 1172.6,695.6 1188.2,699.4 1203.8,697.3 1217.0,700.1 1233.4,702.2 1241.6,700.5 1250.0,700.5 1257.1,697.5 1265.0,699.7 1271.6,700.6 1279.4,702.6 1287.3,701.4 1295.2,703.7 1303.1,705.6 1311.0,704.1 1317.6,706.3 1325.5,706.6 1333.4,707.6 1341.2,710.0 1349.1,711.3 1358.3,713.1 1371.5,715.5 1386.0,717.5 1394.5,717.7 1403.0,715.5 1410.9,715.9 1417.5,716.4 1425.4,718.5" fill="none" stroke="#b2283a" stroke-width="1.1" stroke-linejoin="round"/></g>
<path d="M2 752.5H1459" stroke="#6a6d78" stroke-width="1" stroke-dasharray="5 6" fill="none" shape-rendering="crispEdges"/>
<path d="M2 766.5H1459" stroke="#9598a1" stroke-width="1" stroke-dasharray="5 6" fill="none" shape-rendering="crispEdges"/>
<path d="M2 781.5H1459" stroke="#6a6d78" stroke-width="1" stroke-dasharray="5 6" fill="none" shape-rendering="crispEdges"/>
<g clip-path="url(#cci)"><polyline points="2.0,743.3 8.2,734.2 14.8,730.6 21.4,736.7 30.4,741.6 39.4,737.5 46.0,737.5 54.2,742.1 65.7,744.1 82.2,748.2 98.6,752.3 106.8,754.0 115.0,756.9 124.9,767.1 136.4,780.3 145.5,793.1 152.9,794.7 169.3,785.2 175.9,783.5 184.1,778.3 191.5,775.3 198.9,769.6 207.1,768.3 215.3,768.8 230.1,773.4 237.5,770.9 244.9,758.9 250.0,754.8 253.6,751.5 259.9,750.3 268.1,750.3 276.3,755.6 284.5,754.8 291.1,750.7 299.3,749.4 306.7,746.2 314.1,745.4 322.3,744.4 330.5,745.4 337.1,744.6 345.3,747.1 352.7,752.3 360.1,751.2 368.3,753.6 376.6,758.6 383.1,756.9 391.4,752.8 398.8,751.8 404.5,754.0 414.4,756.4 421.8,760.2 428.8,761.7 437.4,754.0 445.3,740.0 452.2,738.0 459.6,741.6 467.8,745.3 475.2,760.0 483.4,755.3 490.8,749.9 496.5,752.3 500.0,751.5 506.6,749.4 514.8,751.5 522.2,751.8 528.8,749.5 537.0,754.3 543.6,751.5 552.6,744.1 559.2,742.0 566.6,738.4 574.8,742.5 583.0,747.4 590.1,743.6 597.8,756.4 605.2,755.3 613.1,761.0 620.8,756.9 629.8,761.9 635.6,763.8 643.8,759.7 651.2,750.7 658.6,749.9 667.7,752.8 675.5,754.8 682.1,748.7 690.7,749.5 698.1,750.7 705.5,754.0 712.9,755.6 721.1,747.1 728.1,745.3 736.7,756.4 744.1,770.4 752.5,737.5 759.0,736.7 767.3,752.3 774.3,767.4 781.2,765.8 789.4,755.3 796.8,747.1 805.1,742.5 812.5,742.0 819.9,743.3 828.1,758.4 835.5,756.4 843.4,760.2 851.9,777.0 859.3,791.4 865.9,798.0 874.1,780.6 881.5,776.6 888.9,775.3 897.1,780.6 905.3,789.3 911.9,791.8 920.1,783.5 927.5,785.5 934.9,785.5 943.1,782.7 950.9,779.9 957.9,795.1 965.3,792.3 973.5,780.6 980.9,782.2 989.2,790.1 996.5,796.4 1000.0,793.4 1019.7,777.8 1026.3,777.0 1036.2,780.6 1049.3,778.6 1058.3,779.4 1065.7,783.2 1074.0,781.1 1081.4,778.6 1089.6,768.8 1096.2,759.7 1103.6,753.1 1111.8,756.8 1119.2,757.6 1126.6,747.4 1134.8,745.4 1142.2,751.8 1150.4,749.4 1157.8,743.3 1165.2,739.5 1172.6,742.5 1180.8,745.4 1188.2,749.0 1195.6,751.0 1203.8,754.3 1210.4,755.6 1218.6,754.9 1226.0,757.3 1233.4,758.9 1241.6,763.5 1249.0,767.6 1257.1,758.9 1265.0,751.7 1271.6,755.6 1279.4,758.2 1286.7,747.7 1294.6,741.1 1303.1,741.5 1311.0,730.6 1318.2,735.9 1326.1,747.1 1334.7,748.4 1342.6,752.3 1350.5,753.9 1358.3,753.6 1366.2,753.0 1379.4,753.6 1387.3,756.0 1394.5,755.2 1403.0,762.8 1409.6,759.6 1417.5,758.9 1425.4,757.6" fill="none" stroke="#2962ff" stroke-width="1.2" stroke-linejoin="round"/></g>
<path d="M1459.5 2V831M2 803.5H1519" stroke="#50535e" stroke-width="1" fill="none" shape-rendering="crispEdges"/>
<text x="1467.03" y="85.0" font-size="12" fill="#56565b" textLength="42.05" lengthAdjust="spacingAndGlyphs">151.000</text>
<text x="1467.03" y="126.0" font-size="12" fill="#56565b" textLength="42.05" lengthAdjust="spacingAndGlyphs">150.000</text>
<text x="1467.03" y="166.0" font-size="12" fill="#56565b" textLength="42.05" lengthAdjust="spacingAndGlyphs">149.000</text>
<text x="1467.03" y="207.0" font-size="12" fill="#56565b" textLength="42.05" lengthAdjust="spacingAndGlyphs">148.000</text>
<text x="1467.03" y="248.0" font-size="12" fill="#56565b" textLength="42.05" lengthAdjust="spacingAndGlyphs">147.000</text>
<text x="1467.03" y="289.0" font-size="12" fill="#56565b" textLength="42.05" lengthAdjust="spacingAndGlyphs">146.000</text>
<text x="1467.03" y="370.0" font-size="12" fill="#56565b" textLength="42.05" lengthAdjust="spacingAndGlyphs">144.000</text>
<text x="1467.03" y="411.0" font-size="12" fill="#56565b" textLength="42.05" lengthAdjust="spacingAndGlyphs">143.000</text>
<text x="1467.03" y="451.0" font-size="12" fill="#56565b" textLength="42.05" lengthAdjust="spacingAndGlyphs">142.000</text>
<text x="1467.03" y="492.0" font-size="12" fill="#56565b" textLength="42.05" lengthAdjust="spacingAndGlyphs">141.000</text>
<text x="1467.03" y="533.0" font-size="12" fill="#56565b" textLength="42.05" lengthAdjust="spacingAndGlyphs">140.000</text>
<text x="1467.03" y="573.0" font-size="12" fill="#56565b" textLength="42.05" lengthAdjust="spacingAndGlyphs">139.000</text>
<text x="1467.03" y="614.0" font-size="12" fill="#56565b" textLength="42.05" lengthAdjust="spacingAndGlyphs">138.000</text>
<text x="1467.03" y="655.0" font-size="12" fill="#56565b" textLength="42.05" lengthAdjust="spacingAndGlyphs">137.000</text>
<path d="M1459 35.0H1512a3 3 0 0 1 3 3V49.0a3 3 0 0 1 -3 3H1459Z" fill="#000"/>
<text x="1466.43" y="47.5" font-size="12" font-weight="bold" fill="#fff" textLength="42.18" lengthAdjust="spacingAndGlyphs">151.916</text>
<path d="M1459 314.0H1512a3 3 0 0 1 3 3V328.0a3 3 0 0 1 -3 3H1459Z" fill="#000"/>
<text x="1466.43" y="326.5" font-size="12" font-weight="bold" fill="#fff" textLength="42.18" lengthAdjust="spacingAndGlyphs">145.054</text>
<path d="M1459 508.0H1512a3 3 0 0 1 3 3V522.0a3 3 0 0 1 -3 3H1459Z" fill="#000"/>
<text x="1466.43" y="520.5" font-size="12" font-weight="bold" fill="#fff" textLength="42.18" lengthAdjust="spacingAndGlyphs">140.286</text>
<path d="M1459 632.0H1512a3 3 0 0 1 3 3V646.0a3 3 0 0 1 -3 3H1459Z" fill="#000"/>
<text x="1466.43" y="644.5" font-size="12" font-weight="bold" fill="#fff" textLength="42.18" lengthAdjust="spacingAndGlyphs">137.224</text>
<text x="1466.82" y="716.6" font-size="12" fill="#56565b" textLength="29.41" lengthAdjust="spacingAndGlyphs">1.000</text>
<clipPath id="cciax"><rect x="1460" y="727" width="60" height="76"/></clipPath>
<text clip-path="url(#cciax)" x="1466.81" y="733.8" font-size="12" fill="#56565b" textLength="36.18" lengthAdjust="spacingAndGlyphs">250.00</text>
<text x="1467.8" y="770.4" font-size="12" fill="#56565b" textLength="22.45" lengthAdjust="spacingAndGlyphs">0.00</text>
<rect x="1463.5" y="6.5" width="51" height="25" rx="4" fill="#fff" stroke="#e0e3eb"/>
<text x="1466.6" y="23" font-size="12" fill="#131722" textLength="19.6" lengthAdjust="spacingAndGlyphs">JPY</text>
<path d="M1505 18.5l2.5 2.5l2.5-2.5" stroke="#131722" stroke-width="1.2" fill="none"/>
<text x="8.5" y="821" font-size="12" fill="#4a4a4f" text-anchor="middle">16</text>
<text x="92.5" y="821" font-size="12" fill="#4a4a4f" text-anchor="middle">Jul</text>
<text x="253.5" y="821" font-size="12" fill="#4a4a4f" text-anchor="middle">Aug</text>
<text x="337.5" y="821" font-size="12" fill="#4a4a4f" text-anchor="middle">16</text>
<text x="429.5" y="821" font-size="12" fill="#4a4a4f" text-anchor="middle">Sep</text>
<text x="590.5" y="821" font-size="12" fill="#4a4a4f" text-anchor="middle">Oct</text>
<text x="675.5" y="821" font-size="12" fill="#4a4a4f" text-anchor="middle">17</text>
<text x="759.5" y="821" font-size="12" fill="#4a4a4f" text-anchor="middle">Nov</text>
<text x="843.5" y="821" font-size="12" fill="#4a4a4f" text-anchor="middle">16</text>
<text x="928.5" y="821" font-size="12" fill="#4a4a4f" text-anchor="middle">Dec</text>
<text x="1081.5" y="821" font-size="12" fill="#4a4a4f" text-anchor="middle">2024</text>
<text x="1165.5" y="821" font-size="12" fill="#4a4a4f" text-anchor="middle">17</text>
<text x="1249.5" y="821" font-size="12" fill="#4a4a4f" text-anchor="middle">Feb</text>
<text x="1410.5" y="821" font-size="12" fill="#4a4a4f" text-anchor="middle">Mar</text>
<circle cx="23" cy="14.9" r="6.3" fill="#f0f3fa"/>
<circle cx="23.4" cy="14.5" r="3.1" fill="#f23645"/>
<circle cx="17" cy="21" r="7.4" fill="#fff"/>
<clipPath id="usf"><circle cx="17" cy="21" r="6.1"/></clipPath>
<g clip-path="url(#usf)"><rect x="10" y="14" width="14" height="14" fill="#fff"/><rect x="10" y="14.5" width="14" height="2.5" fill="#f23645"/><rect x="10" y="19.2" width="14" height="2.2" fill="#f23645"/><rect x="10" y="23.9" width="14" height="3.5" fill="#f23645"/><rect x="10" y="14" width="8" height="8" fill="#1e6ff5"/><g fill="#fff"><circle cx="12.6" cy="16.2" r=".5"/><circle cx="14.6" cy="16.2" r=".5"/><circle cx="16.6" cy="16.2" r=".5"/><circle cx="12.6" cy="18.2" r=".5"/><circle cx="14.6" cy="18.2" r=".5"/><circle cx="16.6" cy="18.2" r=".5"/><circle cx="12.6" cy="20.2" r=".5"/><circle cx="14.6" cy="20.2" r=".5"/><circle cx="16.6" cy="20.2" r=".5"/></g></g>
<text x="32.84" y="24.10" font-size="15" font-weight="normal" fill="#555558" textLength="190.78" lengthAdjust="spacingAndGlyphs">U.S. Dollar / Japanese Yen</text>
<text x="236.08" y="24.10" font-size="15" font-weight="normal" fill="#555558" textLength="17.59" lengthAdjust="spacingAndGlyphs">1D</text>
<text x="265.72" y="24.10" font-size="15" font-weight="normal" fill="#555558" textLength="98.81" lengthAdjust="spacingAndGlyphs">PEPPERSTONE</text>
<circle cx="230.2" cy="18.7" r="1.1" fill="#555558"/><circle cx="259.8" cy="18.7" r="1.1" fill="#555558"/>
<circle cx="389" cy="17.9" r="9" fill="#dff3ee"/><circle cx="389" cy="17.9" r="4" fill="#089981"/>
<text x="412.98" y="23.00" font-size="13" font-weight="normal" fill="#5d5d60" textLength="9.34" lengthAdjust="spacingAndGlyphs">O</text>
<text x="423.55" y="23.00" font-size="13" font-weight="normal" fill="#6b1d17" textLength="44.85" lengthAdjust="spacingAndGlyphs">150.485</text>
<text x="474.98" y="23.00" font-size="13" font-weight="normal" fill="#5d5d60" textLength="8.69" lengthAdjust="spacingAndGlyphs">H</text>
<text x="485.36" y="23.00" font-size="13" font-weight="normal" fill="#6b1d17" textLength="44.34" lengthAdjust="spacingAndGlyphs">150.546</text>
<text x="536.12" y="23.00" font-size="13" font-weight="normal" fill="#5d5d60" textLength="7.11" lengthAdjust="spacingAndGlyphs">L</text>
<text x="544.05" y="23.00" font-size="13" font-weight="normal" fill="#6b1d17" textLength="44.75" lengthAdjust="spacingAndGlyphs">150.344</text>
<text x="595.40" y="23.00" font-size="13" font-weight="normal" fill="#5d5d60" textLength="7.51" lengthAdjust="spacingAndGlyphs">C</text>
<text x="603.65" y="23.00" font-size="13" font-weight="normal" fill="#6b1d17" textLength="44.85" lengthAdjust="spacingAndGlyphs">150.431</text>
<text x="655.43" y="23.00" font-size="13" font-weight="normal" fill="#6b1d17" textLength="38.99" lengthAdjust="spacingAndGlyphs">−0.089</text>
<text x="699.28" y="23.00" font-size="13" font-weight="normal" fill="#6b1d17" textLength="48.85" lengthAdjust="spacingAndGlyphs">(−0.06%)</text>
<rect x="8" y="33" width="160" height="26" fill="#fff" fill-opacity="0.6"/>
<rect x="10.5" y="34.5" width="59.5" height="23" rx="4" fill="#fff" stroke="#f23645"/>
<rect x="102.5" y="34.5" width="59.5" height="23" rx="4" fill="#fff" stroke="#2962ff"/>
<text x="17.82" y="50.40" font-size="13" font-weight="normal" fill="#f23645" textLength="38.82" lengthAdjust="spacingAndGlyphs">150.43</text>
<text x="57.90" y="48.00" font-size="10.5" font-weight="normal" fill="#f23645" textLength="4.60" lengthAdjust="spacingAndGlyphs">1</text>
<text x="78.90" y="50.00" font-size="11" font-weight="normal" fill="#2a2a2e" textLength="14.99" lengthAdjust="spacingAndGlyphs">0.3</text>
<text x="110.52" y="50.40" font-size="13" font-weight="normal" fill="#2962ff" textLength="38.82" lengthAdjust="spacingAndGlyphs">150.43</text>
<text x="148.90" y="48.00" font-size="10.5" font-weight="normal" fill="#2962ff" textLength="6.40" lengthAdjust="spacingAndGlyphs">4</text>
<text x="9.90" y="78.60" font-size="13" font-weight="normal" fill="#555558" textLength="60.67" lengthAdjust="spacingAndGlyphs">MA Ribbon</text>
<text x="74.47" y="78.60" font-size="13" font-weight="normal" fill="#555558" textLength="73.89" lengthAdjust="spacingAndGlyphs">SMA close 20</text>
<text x="151.46" y="78.60" font-size="13" font-weight="normal" fill="#555558" textLength="74.61" lengthAdjust="spacingAndGlyphs">SMA close 50</text>
<text x="229.26" y="78.60" font-size="13" font-weight="normal" fill="#555558" textLength="81.41" lengthAdjust="spacingAndGlyphs">SMA close 100</text>
<text x="313.26" y="78.60" font-size="13" font-weight="normal" fill="#555558" textLength="81.21" lengthAdjust="spacingAndGlyphs">SMA close 200</text>
<text x="402.33" y="78.60" font-size="13" font-weight="normal" fill="#f23645" textLength="45.37" lengthAdjust="spacingAndGlyphs">150.104</text>
<text x="454.15" y="78.60" font-size="13" font-weight="normal" fill="#2962ff" textLength="44.75" lengthAdjust="spacingAndGlyphs">147.572</text>
<text x="506.03" y="78.60" font-size="13" font-weight="normal" fill="#2a2a2e" textLength="7.76" lengthAdjust="spacingAndGlyphs">Ø</text>
<text x="519.63" y="78.60" font-size="13" font-weight="normal" fill="#2a2a2e" textLength="45.37" lengthAdjust="spacingAndGlyphs">146.038</text>
<rect x="11.5" y="88.5" width="28" height="20" rx="3" fill="#fff" stroke="#e0e3eb"/>
<path d="M22.5 100l3-3l3 3" stroke="#131722" stroke-width="1.3" fill="none"/>
<rect x="10" y="692" width="112" height="15" fill="#fff" fill-opacity="0.55"/><rect x="10" y="736" width="146" height="15" fill="#fff" fill-opacity="0.55"/>
<text x="11.60" y="703.80" font-size="13" font-weight="normal" fill="#555558" textLength="21.81" lengthAdjust="spacingAndGlyphs">ATR</text>
<text x="36.66" y="703.80" font-size="13" font-weight="normal" fill="#555558" textLength="13.58" lengthAdjust="spacingAndGlyphs">14</text>
<text x="53.54" y="703.80" font-size="13" font-weight="normal" fill="#555558" textLength="24.76" lengthAdjust="spacingAndGlyphs">RMA</text>
<text x="87.00" y="703.80" font-size="13" font-weight="normal" fill="#b22833" textLength="31.63" lengthAdjust="spacingAndGlyphs">0.846</text>
<text x="10.68" y="747.60" font-size="13" font-weight="normal" fill="#555558" textLength="20.60" lengthAdjust="spacingAndGlyphs">CCI</text>
<text x="34.16" y="747.60" font-size="13" font-weight="normal" fill="#555558" textLength="13.58" lengthAdjust="spacingAndGlyphs">20</text>
<text x="51.88" y="747.60" font-size="13" font-weight="normal" fill="#555558" textLength="24.29" lengthAdjust="spacingAndGlyphs">hlc3</text>
<text x="79.07" y="747.60" font-size="13" font-weight="normal" fill="#555558" textLength="23.37" lengthAdjust="spacingAndGlyphs">SMA</text>
<text x="105.97" y="747.60" font-size="13" font-weight="normal" fill="#555558" textLength="6.75" lengthAdjust="spacingAndGlyphs">5</text>
<text x="120.71" y="747.60" font-size="13" font-weight="normal" fill="#2962ff" textLength="32.13" lengthAdjust="spacingAndGlyphs">59.53</text>
<path d="M14.1 774H25.8V788.7H20V779.7H14.1Z M37.3 774H43.8L37.9 788.7H31Z" fill="#fff" stroke="#fff" stroke-width="4" stroke-linejoin="round"/><circle cx="30.9" cy="776.9" r="4.6" fill="#fff"/>
<path d="M14.1 774H25.8V788.7H20V779.7H14.1Z M37.3 774H43.8L37.9 788.7H31Z" fill="#131722"/><circle cx="30.9" cy="776.9" r="2.9" fill="#131722"/>
<defs><filter id="blur1" x="-20%" y="-20%" width="140%" height="140%"><feGaussianBlur stdDeviation="0.75"/></filter></defs>
<defs><filter id="ds" x="-10%" y="-10%" width="120%" height="130%"><feGaussianBlur in="SourceAlpha" stdDeviation="0.9" result="b"/><feOffset in="b" dx="-1.6" dy="1.6" result="o"/><feComponentTransfer in="o" result="s"><feFuncA type="linear" slope="0.55"/></feComponentTransfer><feFlood flood-color="#3a3a3a"/><feComposite in2="s" operator="in" result="sh"/><feMerge><feMergeNode in="sh"/><feMergeNode in="SourceGraphic"/></feMerge></filter></defs>
<g filter="url(#ds)" stroke="#fdfdfe" stroke-width="5" stroke-linecap="square" stroke-opacity="0.93"><line x1="1298.3" y1="740.9" x2="1298.3" y2="746.1"/><line x1="1301.8" y1="748.2" x2="1340.2" y2="748.2"/><line x1="1288.8" y1="754.6" x2="1299.8" y2="754.6"/><line x1="1293.2" y1="756.4" x2="1293.2" y2="764.0"/><line x1="1307.8" y1="758.0" x2="1325.6" y2="758.0"/><line x1="1308.6" y1="758.0" x2="1306.0" y2="766.6"/><line x1="1340.2" y1="742.7" x2="1326.5" y2="792.2"/><line x1="1284.6" y1="772.6" x2="1293.2" y2="772.6"/><line x1="1303.4" y1="775.1" x2="1321.4" y2="775.1"/><line x1="1303.4" y1="775.1" x2="1301.3" y2="784.5"/><line x1="1275.2" y1="792.2" x2="1293.2" y2="792.2"/><line x1="1293.2" y1="792.4" x2="1326.5" y2="792.4"/><line x1="1292.8" y1="775.4" x2="1282.8" y2="792.4"/><line x1="1320.8" y1="737.4" x2="1323.8" y2="742.4"/><line x1="1348.8" y1="746.9" x2="1387.2" y2="746.9"/><line x1="1356.4" y1="750.4" x2="1353.0" y2="759.8"/><line x1="1344.4" y1="769.2" x2="1382.9" y2="769.2"/><line x1="1339.3" y1="783.7" x2="1378.6" y2="783.7"/><line x1="1378.3" y1="778.4" x2="1377.8" y2="783.7"/><line x1="1364.1" y1="793.5" x2="1382.9" y2="793.5"/><line x1="1399.2" y1="740.1" x2="1382.9" y2="793.5"/><line x1="1398.7" y1="740.2" x2="1393.5" y2="766.9"/><line x1="1412.5" y1="749.2" x2="1423.7" y2="749.2"/><line x1="1412.5" y1="749.2" x2="1404.7" y2="778.9"/><line x1="1421.9" y1="750.5" x2="1415.1" y2="778.9"/><line x1="1415.1" y1="778.9" x2="1416.8" y2="784.4"/><line x1="1404.7" y1="778.9" x2="1395.8" y2="792.4"/><line x1="1432.3" y1="752.6" x2="1446.9" y2="752.6"/><line x1="1434.0" y1="741.0" x2="1424.5" y2="778.0"/><line x1="1459.0" y1="751.4" x2="1447.8" y2="791.8"/><line x1="1446.9" y1="754.8" x2="1433.1" y2="787.5"/><line x1="1395.2" y1="792.7" x2="1412.5" y2="792.7"/><line x1="1411.8" y1="792.7" x2="1420.8" y2="792.7"/><line x1="1433.8" y1="792.7" x2="1447.8" y2="792.7"/><line x1="1486.5" y1="740.2" x2="1472.8" y2="754.8"/><line x1="1487.4" y1="753.9" x2="1472.8" y2="771.2"/><line x1="1492.6" y1="747.0" x2="1506.4" y2="747.0"/><line x1="1520.8" y1="741.9" x2="1508.8" y2="755.7"/><line x1="1495.2" y1="766.0" x2="1515.8" y2="766.0"/><line x1="1480.5" y1="776.4" x2="1491.7" y2="776.4"/><line x1="1462.4" y1="779.8" x2="1477.8" y2="779.8"/><line x1="1511.8" y1="770.4" x2="1508.8" y2="776.4"/><line x1="1480.8" y1="773.4" x2="1477.8" y2="779.8"/><line x1="1499.8" y1="776.4" x2="1497.8" y2="784.4"/><line x1="1477.8" y1="785.4" x2="1475.8" y2="792.4"/><line x1="1457.3" y1="792.7" x2="1508.8" y2="792.7"/><line x1="1508.8" y1="785.4" x2="1506.8" y2="792.7"/></g>
<path d="M1459.5 735V803" stroke="#50535e" stroke-width="1" stroke-opacity="0.6" shape-rendering="crispEdges"/>
<text x="1286.50 1313.70 1339.90 1363.15 1384.46 1417.62 1443.92 1462.13 1488.51" y="830.5" font-size="36" font-weight="bold" font-style="italic" fill="#6a84c8" fill-opacity="0.6" transform="translate(1.6,1.6)">zzrt01.cn</text>
<text x="1286.50 1313.70 1339.90 1363.15 1384.46 1417.62 1443.92 1462.13 1488.51" y="830.5" font-size="36" font-weight="bold" font-style="italic" fill="#8dc4f8">zzrt01.cn</text>
<path d="M1483.2 817.5l3.3-5.6h6.4l3.3 5.6l-3.3 5.6h-6.4Z" fill="none" stroke="#131722" stroke-width="1"/><circle cx="1489.7" cy="817.5" r="1.9" fill="none" stroke="#131722" stroke-width="1"/>
</svg></body></html>
